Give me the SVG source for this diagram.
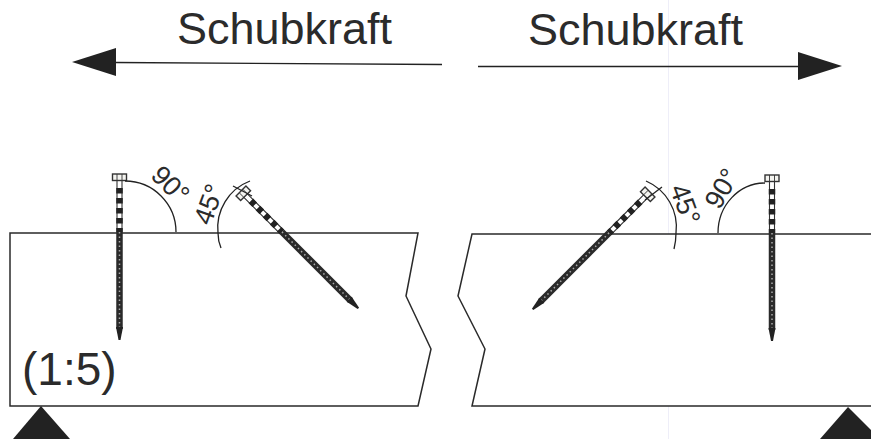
<svg xmlns="http://www.w3.org/2000/svg" width="871" height="439" viewBox="0 0 871 439">
<style>
text{font-family:"Liberation Sans",Arial,sans-serif;fill:#2b2b2b}
.t{font-size:45px}
.a{font-size:27px}
.l{fill:none;stroke:#222;stroke-width:1.3}
.b{fill:#fff;stroke:#2a2a2a;stroke-width:1.5;stroke-linejoin:miter}
.d{fill:#222;stroke:none}
</style>
<defs>
<g id="screw">
<rect x="-7" y="0" width="14" height="6.500" fill="#f4f4f0" stroke="#333" stroke-width="1.400"/>
<path d="M-2.500 0V6.500M2.500 0V6.500" stroke="#333" stroke-width="0.900" fill="none"/>
<path d="M-2.500 6.500V58M2.500 6.500V58" stroke="#333" stroke-width="1.100"/>
<path d="M0 14V58" stroke="#222" stroke-width="6.500" stroke-dasharray="5.500 4.500"/>
<path d="M0 58V155" stroke="#2a2a2a" stroke-width="6.500"/>
<path d="M0 58V155" stroke="#aaa" stroke-width="1.500" stroke-dasharray="1.500 3"/>
<path d="M-3.500 153L3.500 153L1 166H-1Z" fill="#222"/>
</g>
</defs>
<rect width="871" height="439" fill="#fff"/>
<path d="M668.500 0V439" stroke="#eeeef8" stroke-width="1"/>

<g id="beam-left"><path class="b" d="M418 233H10V406H418L431 349L406 296Z"/></g>
<g id="beam-right"><path class="b" d="M871 234H472L458 296L485 349L472 406H871"/></g>

<g id="screw-left-90"><use href="#screw" transform="translate(119.500 174)"/></g>
<g id="screw-left-45"><use href="#screw" transform="translate(241 191) rotate(-45)"/></g>
<g id="screw-right-45"><use href="#screw" transform="translate(650 192) rotate(45)"/></g>
<g id="screw-right-90"><use href="#screw" transform="translate(772 175)"/></g>

<g id="connectors">
<path class="l" d="M442 64.500L115 62.500"/>
<path class="l" d="M478 66.500H800"/>
<path class="d" d="M72 62L116 48V76Z"/>
<path class="d" d="M842 66L798 52V80Z"/>
<path class="l" d="M125 181A51 51 0 0 1 176 232"/>
<path class="l" d="M250 181A50 50 0 0 0 218 233Q218 241 221 248"/>
<path class="l" d="M765 183A47 50 0 0 0 718 233"/>
<path class="l" d="M646 181A50 50 0 0 1 676 233Q676 241 674 249"/>
<path class="l" d="M233 186L252 196"/>
<path class="l" d="M662 187L645 200"/>
</g>

<g id="support-left"><path class="d" d="M41 406L13 439H70Z"/></g>
<g id="support-right"><path class="d" d="M848 407L820 439H871V430Z"/></g>

<g id="label-left"><text class="t" x="177" y="44">Schubkraft</text></g>
<g id="label-right"><text class="t" x="528" y="45">Schubkraft</text></g>
<g id="scale"><text x="22" y="385" font-size="46">(1:5)</text></g>
<g id="angles">
<text class="a" text-anchor="middle" transform="translate(171 184) rotate(45) translate(0 10)">90°</text>
<text class="a" text-anchor="middle" transform="translate(208 204) rotate(-70) translate(0 10)">45°</text>
<text class="a" text-anchor="middle" transform="translate(686 204) rotate(70) translate(0 10)">45°</text>
<text class="a" text-anchor="middle" transform="translate(721 188) rotate(-60) translate(0 10)">90°</text>
</g>
</svg>
